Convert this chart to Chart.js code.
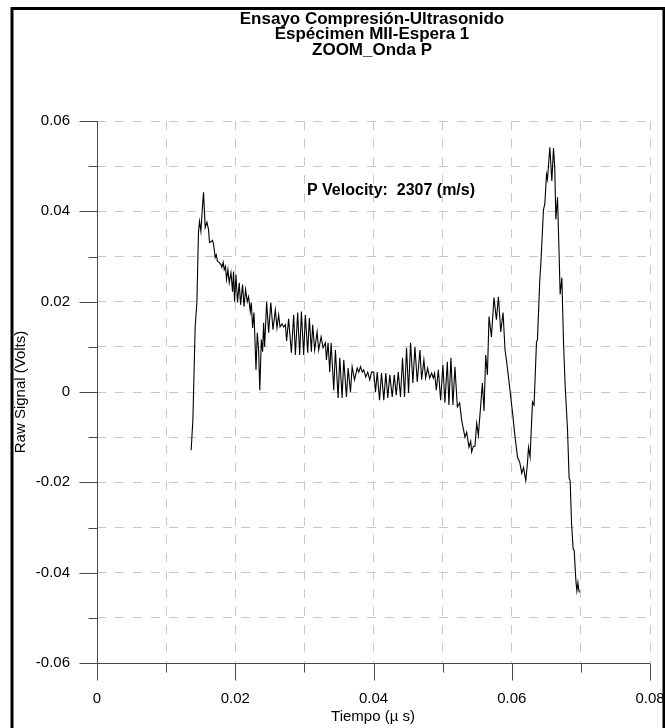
<!DOCTYPE html>
<html>
<head>
<meta charset="utf-8">
<script src="https://cdn.jsdelivr.net/npm/chart.js@4.4.1/dist/chart.umd.min.js"></script>
<style>
  html, body { margin: 0; padding: 0; background: #fff; }
  canvas { display: block; }
</style>
</head>
<body>
<canvas id="myChart" width="665" height="728"></canvas>
<script>
// time (x) and raw signal (y), peak by peak
const timeValues = [
  0.01362, 0.01387, 0.01420, 0.01445, 0.01468, 0.01483, 0.01503, 0.01526, 0.01541, 0.01565,
  0.01590, 0.01613, 0.01628, 0.01652, 0.01671, 0.01686, 0.01710, 0.01725, 0.01743, 0.01768,
  0.01793, 0.01807, 0.01826, 0.01841, 0.01859, 0.01874, 0.01894, 0.01913, 0.01938, 0.01961,
  0.01975, 0.01990, 0.02010, 0.02033, 0.02058, 0.02077, 0.02106, 0.02126, 0.02149, 0.02174,
  0.02193, 0.02217, 0.02232, 0.02251, 0.02271, 0.02300, 0.02319, 0.02338, 0.02355, 0.02377,
  0.02396, 0.02410, 0.02425, 0.02454, 0.02483, 0.02514, 0.02546, 0.02580, 0.02604, 0.02628,
  0.02648, 0.02677, 0.02700, 0.02725, 0.02743, 0.02772, 0.02812, 0.02845, 0.02870, 0.02903,
  0.02932, 0.02957, 0.02990, 0.03014, 0.03048, 0.03072, 0.03101, 0.03120, 0.03149, 0.03184,
  0.03207, 0.03242, 0.03271, 0.03304, 0.03319, 0.03343, 0.03367, 0.03387, 0.03425, 0.03449,
  0.03488, 0.03512, 0.03546, 0.03570, 0.03609, 0.03633, 0.03667, 0.03691, 0.03725, 0.03764,
  0.03787, 0.03812, 0.03836, 0.03859, 0.03888, 0.03917, 0.03946, 0.03971, 0.04004, 0.04029,
  0.04054, 0.04087, 0.04116, 0.04149, 0.04178, 0.04207, 0.04236, 0.04271, 0.04300, 0.04329,
  0.04358, 0.04391, 0.04420, 0.04449, 0.04478, 0.04507, 0.04536, 0.04570, 0.04599, 0.04633,
  0.04672, 0.04696, 0.04729, 0.04754, 0.04783, 0.04812, 0.04841, 0.04865, 0.04884, 0.04909,
  0.04938, 0.04971, 0.05004, 0.05033, 0.05068, 0.05091, 0.05120, 0.05149, 0.05178, 0.05213,
  0.05246, 0.05275, 0.05323, 0.05348, 0.05381, 0.05406, 0.05420, 0.05445, 0.05468, 0.05493,
  0.05517, 0.05551, 0.05575, 0.05599, 0.05623, 0.05648, 0.05671, 0.05706, 0.05743, 0.05778,
  0.05807, 0.05841, 0.05874, 0.05903, 0.05923, 0.05961, 0.06010, 0.06048, 0.06083, 0.06116,
  0.06145, 0.06170, 0.06203, 0.06228, 0.06242, 0.06265, 0.06300, 0.06323, 0.06358, 0.06372,
  0.06406, 0.06420, 0.06459, 0.06478, 0.06503, 0.06517, 0.06551, 0.06580, 0.06604, 0.06623,
  0.06638, 0.06662, 0.06686, 0.06700, 0.06725, 0.06749, 0.06772, 0.06807, 0.06830, 0.06845,
  0.06865, 0.06888, 0.06903, 0.06928, 0.06942, 0.06957, 0.06971, 0.06981
];

const rawSignal = [
  -0.0129, -0.0062, 0.0144, 0.0198, 0.0353, 0.0378, 0.0356, 0.0411, 0.0442, 0.0364,
  0.0376, 0.0360, 0.0331, 0.0333, 0.0336, 0.0327, 0.0298, 0.0304, 0.0289, 0.0287,
  0.0282, 0.0276, 0.0287, 0.0271, 0.0278, 0.0249, 0.0271, 0.0242, 0.0264, 0.0222,
  0.0267, 0.0200, 0.0260, 0.0198, 0.0242, 0.0193, 0.0238, 0.0189, 0.0227, 0.0200,
  0.0211, 0.0178, 0.0198, 0.0142, 0.0176, 0.0049, 0.0131, 0.0093, 0.0004, 0.0116,
  0.0089, 0.0153, 0.0100, 0.0200, 0.0131, 0.0198, 0.0138, 0.0182, 0.0142, 0.0171,
  0.0144, 0.0151, 0.0144, 0.0149, 0.0113, 0.0162, 0.0087, 0.0171, 0.0082, 0.0176,
  0.0082, 0.0178, 0.0082, 0.0171, 0.0087, 0.0164, 0.0089, 0.0149, 0.0093, 0.0133,
  0.0093, 0.0122, 0.0098, 0.0109, 0.0071, 0.0109, 0.0044, 0.0109, 0.0004, 0.0093,
  -0.0013, 0.0076, -0.0013, 0.0071, -0.0011, 0.0053, 0.0000, 0.0056, 0.0027, 0.0053,
  0.0044, 0.0056, 0.0044, 0.0049, 0.0033, 0.0044, 0.0027, 0.0044, 0.0044, 0.0000,
  0.0044, -0.0018, 0.0042, -0.0018, 0.0042, -0.0013, 0.0038, -0.0011, 0.0038, -0.0007,
  0.0044, -0.0011, 0.0076, -0.0011, 0.0098, -0.0002, 0.0109, 0.0020, 0.0100, 0.0022,
  0.0093, 0.0027, 0.0071, 0.0031, 0.0053, 0.0031, 0.0042, 0.0031, 0.0042, 0.0004,
  0.0049, -0.0018, 0.0060, -0.0024, 0.0067, -0.0029, 0.0076, -0.0029, 0.0056, -0.0033,
  -0.0024, -0.0062, -0.0100, -0.0089, -0.0122, -0.0109, -0.0133, -0.0120, -0.0120, -0.0069,
  -0.0096, -0.0029, 0.0020, -0.0042, 0.0082, 0.0038, 0.0167, 0.0122, 0.0209, 0.0160,
  0.0211, 0.0133, 0.0176, 0.0093, 0.0071, 0.0022, -0.0044, -0.0100, -0.0144, -0.0156,
  -0.0180, -0.0167, -0.0196, -0.0156, -0.0122, -0.0144, -0.0022, -0.0029, 0.0111, 0.0116,
  0.0249, 0.0282, 0.0404, 0.0416, 0.0482, 0.0471, 0.0542, 0.0467, 0.0540, 0.0493,
  0.0382, 0.0431, 0.0300, 0.0216, 0.0253, 0.0109, 0.0016, -0.0084, -0.0191, -0.0196,
  -0.0291, -0.0347, -0.0351, -0.0418, -0.0440, -0.0422, -0.0440, -0.0444
];

const titleLines = ['Ensayo Compresión-Ultrasonido', 'Espécimen MII-Espera 1', 'ZOOM_Onda P'];
const velocityNote = 'P Velocity:  2307 (m/s)';
const xAxisTitle = 'Tiempo (µ s)';
const yAxisTitle = 'Raw Signal (Volts)';

const FONT = "'Liberation Sans', Arial, sans-serif";
Chart.defaults.font.family = FONT;

// labels only on every other step (0.02)
function tickLabel(value) {
  const k = Math.round(value * 100);
  if (k % 2 !== 0) return '';
  return k === 0 ? '0' : (k / 100).toFixed(2);
}

// frame, axis lines, long/short tick marks and the loose texts
const decorations = {
  id: 'decorations',
  beforeDraw(chart) {
    const ctx = chart.ctx;
    ctx.save();
    ctx.fillStyle = '#fff';
    ctx.fillRect(0, 0, chart.width, chart.height);
    ctx.strokeStyle = '#000';
    ctx.lineWidth = 3;
    ctx.beginPath();
    ctx.moveTo(12, chart.height + 5);
    ctx.lineTo(12, 8.5);
    ctx.lineTo(664, 8.5);
    ctx.lineTo(664, chart.height + 5);
    ctx.stroke();
    ctx.restore();
  },
  afterDatasetsDraw(chart) {
    const ctx = chart.ctx;
    const xs = chart.scales.x, ys = chart.scales.y;
    const x0 = Math.round(xs.getPixelForValue(0)) + 0.5;
    const yb = Math.round(ys.getPixelForValue(-0.06)) + 0.5;
    ctx.save();
    ctx.strokeStyle = '#4a4a4a';
    ctx.lineWidth = 1;
    ctx.beginPath();
    // axis lines cross and run past each other
    ctx.moveTo(x0 - 18, yb);
    ctx.lineTo(xs.getPixelForValue(0.08), yb);
    ctx.moveTo(x0, ys.getPixelForValue(0.06));
    ctx.lineTo(x0, yb + 17);
    for (let i = -5; i <= 6; i++) {
      const py = Math.round(ys.getPixelForValue(i / 100)) + 0.5;
      const len = i % 2 === 0 ? 18 : 9;
      ctx.moveTo(x0 - len, py);
      ctx.lineTo(x0, py);
    }
    for (let i = 1; i <= 8; i++) {
      const px = Math.round(xs.getPixelForValue(i / 100)) + 0.5;
      const len = i % 2 === 0 ? 17 : 9;
      ctx.moveTo(px, yb);
      ctx.lineTo(px, yb + len);
    }
    ctx.stroke();

    ctx.fillStyle = '#000';
    ctx.textAlign = 'center';
    ctx.textBaseline = 'middle';
    ctx.font = 'bold 17px ' + FONT;
    titleLines.forEach((t, i) => ctx.fillText(t, 372, 19 + i * 15.5));

    ctx.font = 'bold 16px ' + FONT;
    ctx.fillText(velocityNote, 391, 191);

    ctx.font = '15px ' + FONT;
    ctx.fillText(xAxisTitle, 373, 717);
    ctx.translate(21, 392);
    ctx.rotate(-Math.PI / 2);
    ctx.fillText(yAxisTitle, 0, 0);
    ctx.restore();
  }
};

const gridOpts = {
  color: '#c8c8c8',
  lineWidth: 1,
  drawTicks: true,
  tickLength: 27,
  tickColor: 'rgba(0,0,0,0)',
  borderDash: [9, 9]
};

const config = {
  type: 'line',
  data: {
    datasets: [{
      data: timeValues.map((t, i) => ({ x: t, y: rawSignal[i] })),
      borderColor: '#000',
      borderWidth: 1.1,
      pointRadius: 0,
      fill: false,
      tension: 0
    }]
  },
  options: {
    responsive: false,
    animation: false,
    layout: { padding: { top: 121, right: 15, bottom: 0, left: 0 } },
    plugins: {
      legend: { display: false },
      title: { display: false },
      tooltip: { enabled: false }
    },
    scales: {
      x: {
        type: 'linear',
        min: 0,
        max: 0.08,
        afterFit(scale) { scale.height = 65; },
        ticks: { stepSize: 0.01, autoSkip: false, maxRotation: 0, padding: 0, color: '#000', font: { size: 15 }, callback: tickLabel },
        grid: gridOpts,
        border: { display: false, dash: [9, 9] }
      },
      y: {
        min: -0.06,
        max: 0.06,
        afterFit(scale) { scale.width = 97; },
        ticks: { stepSize: 0.01, autoSkip: false, padding: 0, color: '#000', font: { size: 15 }, callback: tickLabel },
        grid: gridOpts,
        border: { display: false, dash: [9, 9] }
      }
    }
  },
  plugins: [decorations]
};

let ctx = document.getElementById('myChart').getContext('2d');
let myChart = new Chart(ctx, config);
</script>
</body>
</html>
